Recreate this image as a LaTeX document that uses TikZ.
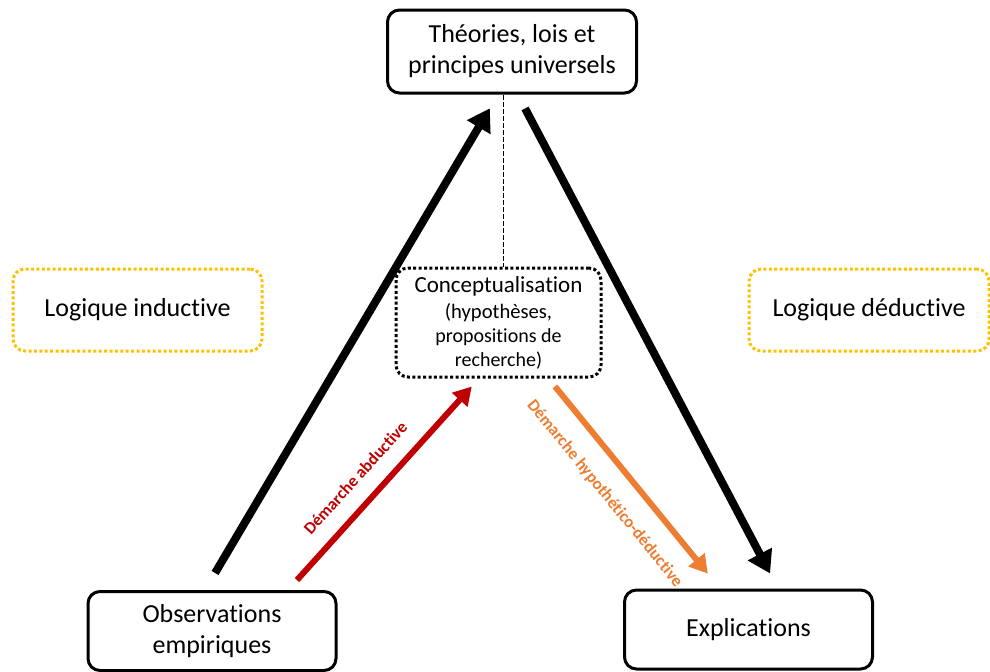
\documentclass[tikz,border=0pt]{standalone}
\usepackage{fontspec}
\setmainfont[Ligatures={NoCommon,NoContextual,NoRare},Contextuals=NoAlternate]{Carlito}
\usetikzlibrary{arrows.meta}
\definecolor{abdred}{HTML}{C00000}
\definecolor{hdorange}{HTML}{ED7D31}
\definecolor{logicgold}{HTML}{FFC000}
\begin{document}
\begin{tikzpicture}[x=0.5pt, y=-0.5pt, line join=round, >={Triangle[length=11pt,width=13pt]}]

		\tikzset{box/.style={draw, line width=1.5pt, rounded corners=6pt, align=center, inner sep=0pt, minimum width=124pt, minimum height=39.5pt, font=\fontsize{13}{15.5}\selectfont},
			logicbox/.style={draw=logicgold, line width=1.5pt, dash pattern=on 1.5pt off 1.2pt, rounded corners=6pt, inner sep=0pt, minimum width=124.5pt, minimum height=41pt, font=\fontsize{13}{15}\selectfont},
			concept/.style={draw, line width=1.5pt, dash pattern=on 1.5pt off 1.2pt, rounded corners=6pt, align=center, inner sep=0pt, minimum width=102.5pt, minimum height=54.5pt},
			big arrow/.style={->, line width=4pt},
			step arrow/.style={-{Triangle[length=9pt,width=10pt]}, line width=3pt},
			step label/.style={font=\fontsize{8.5}{10}\bfseries, inner sep=0pt, sloped}}

		\useasboundingbox (0,0) rectangle (990,671);

		\node[box, minimum width=124.5pt, minimum height=41.5pt] (theo) at (512,51.5) {Théories, lois et\\principes universels};
		\node[box] (obs) at (212,631) {Observations\\empiriques};
		\node[box] (expl) at (748.5,629.5) {\raisebox{-1.5pt}{Explications}};
		\node[concept] (concept) at (498.5,322.5) {\fontsize{11.5}{13}\selectfont Conceptualisation\\[1pt]\fontsize{10.3}{10.8}\selectfont (hypothèses,\\propositions de\\recherche)};
		\node[logicbox] (ind) at (137.5,310) {Logique inductive};
		\node[logicbox, minimum width=120pt] (ded) at (869,310) {Logique déductive};

		\draw[line width=0.5pt, dash pattern=on 2.5pt off 1pt] ([xshift=-4.5pt]theo.south) -- ([xshift=-4.5pt]theo.south |- concept.north);

		\draw[big arrow, shorten <=9.9pt, shorten >=8pt] ([xshift=-3.5pt]obs.north) -- ([xshift=-7pt]theo.south);
		\draw[big arrow, shorten <=7.9pt, shorten >=8.5pt] ([xshift=2.85pt]theo.south) -- ([xshift=14.75pt]expl.north);

		\draw[step arrow, abdred, shorten <=6.7pt, shorten >=5.4pt] ([xshift=38pt]obs.north) -- ([xshift=-9.75pt]concept.south)
		node[step label, pos=.45, above=8pt] {Démarche abductive};
		\draw[step arrow, hdorange, shorten <=5.1pt, shorten >=9.6pt] ([xshift=25pt]concept.south) -- ([xshift=-14.25pt]expl.north)
		node[step label, pos=.46, below=9.5pt] {Démarche hypothético-déductive};
		\end{tikzpicture}
\end{document}
